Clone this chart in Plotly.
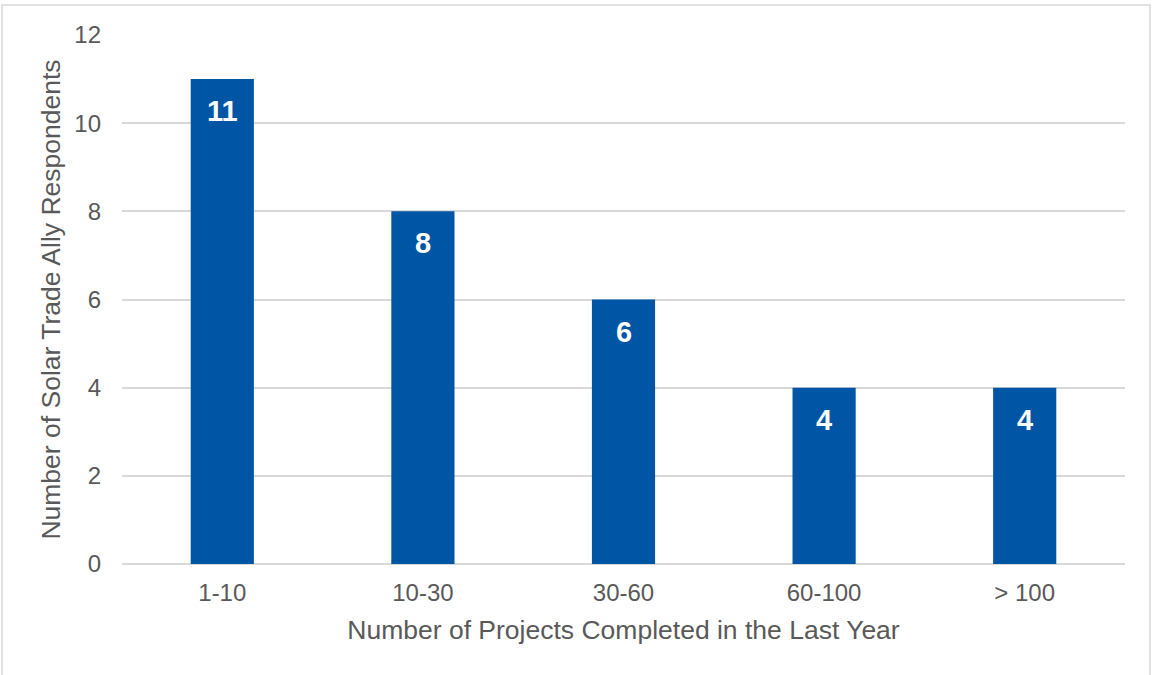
import plotly.graph_objects as go

categories = ["1-10", "10-30", "30-60", "60-100", "> 100"]
values = [11, 8, 6, 4, 4]
y_ticks = [0, 2, 4, 6, 8, 10, 12]

L, R, T, B = 122, 29, 35, 111
W, H = 1154, 675
pw = W - L - R
ph = H - T - B
FONT = "Liberation Sans, Arial"

fig = go.Figure(go.Bar(
    x=categories, y=values, marker=dict(color="#0055A5", line=dict(width=0)),
    width=0.315, hoverinfo="skip"
))

for c, v in zip(categories, values):
    fig.add_annotation(x=c, y=v, text=str(v), showarrow=False, yanchor="top", yshift=-14,
                       font=dict(family=FONT, size=29, color="white", weight="bold"))

fig.update_layout(
    width=W, height=H, margin=dict(l=L, r=R, t=T, b=B),
    paper_bgcolor="white", plot_bgcolor="white",
    font=dict(family=FONT, color="#595959"),
    showlegend=False,
    xaxis=dict(title=dict(text="Number of Projects Completed in the Last Year", font=dict(size=26.5, color="#595959"), standoff=15),
               tickfont=dict(size=24, color="#595959"), showgrid=False, ticks="", showline=False, zeroline=False,
               ticklabelstandoff=12),
    yaxis=dict(title=dict(text="Number of Solar Trade Ally Respondents", font=dict(size=26.5, color="#595959"), standoff=6),
               range=[0, 12], tickvals=y_ticks, tickfont=dict(size=24, color="#595959"),
               showgrid=True, gridcolor="#D9D9D9", gridwidth=1.5, zeroline=True, zerolinecolor="#D9D9D9", zerolinewidth=1.5,
               ticks="", ticklabelstandoff=20),
    shapes=[dict(type="rect", xref="paper", yref="paper",
                 x0=(2 - L) / pw, x1=(1150 - L) / pw,
                 y0=(H - B - 690) / ph, y1=(H - B - 5) / ph,
                 line=dict(color="#D9D9D9", width=1.5), fillcolor="rgba(0,0,0,0)", layer="below")]
)

fig.write_html("out.html")
